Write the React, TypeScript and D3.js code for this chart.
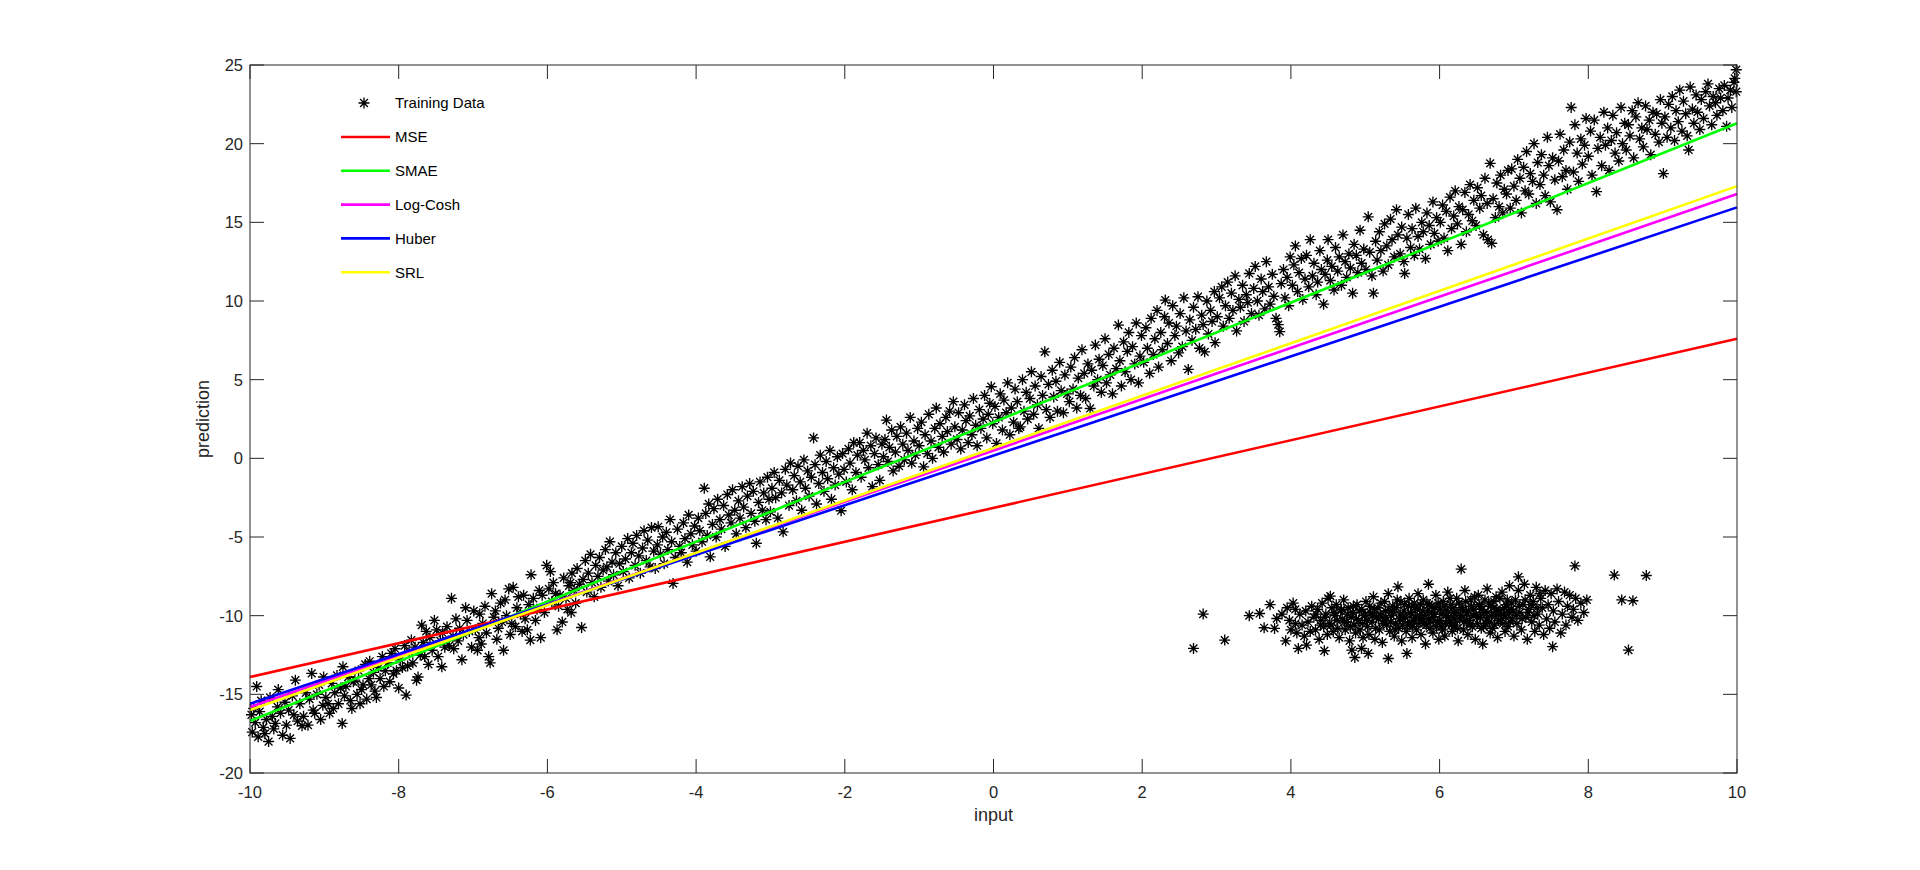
import React from 'react'
import * as d3 from 'd3'

// main band of the training data [input, target]
const bandPoints: [number, number][] = [
  [-9.98,-16.3],[-9.97,-17.4],[-9.95,-15.9],[-9.93,-16.8],[-9.91,-14.5],[-9.89,-17.7],[-9.87,-16.1],[-9.85,-15.4],[-9.82,-17.1],[-9.8,-17.5],[-9.78,-16.6],[-9.75,-18.0],[-9.73,-15.2],[-9.7,-16.4],[-9.68,-17.2],[-9.66,-16.85],[-9.63,-15.8],[-9.62,-14.7],[-9.59,-16.2],[-9.56,-17.6],[-9.53,-15.5],[-9.51,-16.96],[-9.48,-16.0],[-9.46,-17.8],[-9.43,-15.1],[-9.41,-16.3],[-9.39,-14.1],[-9.36,-16.7],[-9.33,-15.6],[-9.3,-17.0],[-9.28,-16.4],[-9.25,-14.9],[-9.22,-16.96],[-9.2,-15.3],[-9.17,-13.67],[-9.15,-16.0],[-9.13,-16.2],[-9.1,-15.0],[-9.07,-14.4],[-9.05,-16.6],[-9.02,-15.7],
  [-9.01,-13.9],[-8.98,-15.2],[-8.95,-15.6],[-8.93,-16.2],[-8.9,-14.3],[-8.88,-15.9],[-8.86,-14.9],[-8.83,-13.8],[-8.81,-15.6],[-8.78,-14.6],[-8.76,-16.85],[-8.75,-13.25],[-8.73,-15.1],[-8.71,-14.5],[-8.68,-13.9],[-8.65,-15.4],[-8.63,-15.9],[-8.61,-14.2],[-8.59,-14.1],[-8.56,-15.0],[-8.54,-13.5],[-8.52,-15.6],[-8.5,-14.7],[-8.48,-14.4],[-8.45,-13.1],[-8.43,-15.3],[-8.4,-14.0],[-8.39,-12.9],[-8.37,-14.4],[-8.34,-13.6],[-8.32,-14.8],[-8.3,-15.2],[-8.27,-13.3],[-8.25,-14.0],[-8.22,-12.6],[-8.2,-14.5],[-8.18,-13.5],[-8.15,-13.0],[-8.12,-14.2],[-8.1,-12.4],[-8.07,-13.7],[-8.05,-12.1],[-8.03,-13.5],
  [-8.0,-14.6],[-7.98,-12.8],[-7.95,-13.3],[-7.92,-11.9],[-7.9,-15.05],[-7.88,-13.2],[-7.86,-12.3],[-7.83,-11.55],[-7.81,-13.0],[-7.78,-12.0],[-7.76,-14.1],[-7.74,-13.9],[-7.71,-12.5],[-7.69,-10.6],[-7.67,-11.7],[-7.65,-12.6],[-7.63,-11.0],[-7.6,-13.1],[-7.58,-11.4],[-7.55,-12.2],[-7.52,-10.3],[-7.49,-10.9],[-7.47,-12.6],[-7.44,-11.6],[-7.42,-13.25],[-7.41,-11.1],[-7.38,-12.0],[-7.35,-10.7],[-7.32,-11.9],[-7.29,-8.9],[-7.27,-11.3],[-7.26,-12.1],[-7.23,-10.2],[-7.2,-11.6],[-7.18,-10.8],[-7.15,-12.8],[-7.13,-11.2],[-7.1,-9.5],[-7.08,-10.3],[-7.05,-11.0],[-7.02,-12.0],
  [-6.99,-9.7],[-6.97,-10.9],[-6.94,-12.2],[-6.92,-11.4],[-6.91,-9.9],[-6.89,-11.8],[-6.87,-10.5],[-6.84,-9.4],[-6.82,-11.1],[-6.79,-12.6],[-6.77,-13.0],[-6.75,-8.6],[-6.72,-10.1],[-6.7,-9.7],[-6.68,-11.5],[-6.66,-10.8],[-6.63,-9.2],[-6.61,-10.4],[-6.59,-12.2],[-6.57,-9.0],[-6.55,-10.0],[-6.52,-8.3],[-6.5,-11.2],[-6.48,-10.5],[-6.46,-8.2],[-6.43,-10.7],[-6.41,-9.5],[-6.39,-8.8],[-6.36,-9.9],[-6.34,-11.0],[-6.32,-8.7],[-6.3,-10.2],[-6.27,-10.9],[-6.25,-9.3],[-6.23,-11.55],[-6.22,-7.4],[-6.19,-8.9],[-6.16,-10.3],[-6.14,-9.6],[-6.11,-8.4],[-6.09,-11.4],[-6.07,-8.7],[-6.04,-9.8],[-6.01,-6.8],
  [-5.98,-8.3],[-5.96,-7.2],[-5.94,-9.1],[-5.92,-7.9],[-5.89,-8.6],[-5.87,-10.9],[-5.85,-9.4],[-5.83,-8.7],[-5.8,-10.4],[-5.78,-7.6],[-5.75,-8.9],[-5.73,-9.6],[-5.71,-8.1],[-5.69,-7.9],[-5.68,-9.8],[-5.67,-7.3],[-5.64,-8.4],[-5.62,-9.2],[-5.6,-7.0],[-5.57,-8.0],[-5.54,-10.75],[-5.52,-7.7],[-5.49,-6.5],[-5.47,-8.5],[-5.45,-7.3],[-5.42,-6.1],[-5.4,-7.9],[-5.37,-8.8],[-5.35,-6.8],[-5.32,-7.5],[-5.3,-6.3],[-5.28,-8.2],[-5.25,-7.1],[-5.22,-5.8],[-5.2,-6.9],[-5.18,-7.8],[-5.16,-5.3],[-5.13,-6.6],[-5.11,-7.4],[-5.08,-6.0],[-5.05,-8.1],[-5.03,-6.7],
  [-5.0,-5.6],[-4.98,-7.2],[-4.95,-6.4],[-4.92,-5.1],[-4.9,-7.6],[-4.87,-6.0],[-4.85,-5.4],[-4.82,-6.8],[-4.8,-4.9],[-4.77,-6.2],[-4.75,-7.3],[-4.72,-5.7],[-4.7,-4.6],[-4.67,-6.5],[-4.65,-5.2],[-4.62,-6.9],[-4.6,-4.4],[-4.57,-5.9],[-4.55,-7.0],[-4.52,-5.5],[-4.51,-4.35],[-4.48,-6.1],[-4.45,-5.0],[-4.43,-6.7],[-4.4,-4.7],[-4.38,-5.8],[-4.35,-3.9],[-4.33,-5.3],[-4.31,-7.95],[-4.28,-6.3],[-4.25,-4.5],[-4.22,-5.6],[-4.2,-6.0],[-4.17,-4.1],[-4.15,-5.1],[-4.12,-6.6],[-4.1,-3.6],[-4.07,-4.8],[-4.05,-5.5],[-4.02,-4.3],
  [-4.0,-5.9],[-3.97,-3.8],[-3.95,-4.6],[-3.92,-5.3],[-3.89,-1.9],[-3.87,-3.5],[-3.85,-4.9],[-3.83,-2.9],[-3.81,-6.26],[-3.78,-4.2],[-3.76,-3.2],[-3.73,-5.0],[-3.71,-2.6],[-3.68,-3.9],[-3.66,-4.5],[-3.63,-3.0],[-3.61,-5.6],[-3.58,-2.3],[-3.56,-3.6],[-3.53,-4.1],[-3.51,-2.0],[-3.48,-3.3],[-3.46,-4.8],[-3.43,-2.7],[-3.41,-3.8],[-3.38,-1.8],[-3.36,-3.1],[-3.33,-4.4],[-3.31,-2.4],[-3.28,-1.6],[-3.26,-3.5],[-3.23,-2.1],[-3.21,-4.0],[-3.19,-5.4],[-3.16,-2.8],[-3.14,-1.5],[-3.11,-3.3],[-3.09,-2.2],[-3.06,-3.9],[-3.04,-1.2],[-3.02,-2.6],
  [-3.0,-3.4],[-2.98,-1.9],[-2.95,-0.9],[-2.93,-2.5],[-2.9,-3.8],[-2.88,-1.4],[-2.85,-2.2],[-2.83,-4.67],[-2.8,-0.7],[-2.78,-1.7],[-2.75,-3.0],[-2.73,-0.3],[-2.7,-2.0],[-2.68,-1.1],[-2.65,-2.7],[-2.63,-0.5],[-2.6,-1.5],[-2.58,-3.3],[-2.55,-0.1],[-2.53,-1.9],[-2.5,-0.8],[-2.48,-2.4],[-2.45,-1.2],[-2.42,1.3],[-2.4,-0.4],[-2.38,-2.9],[-2.35,-1.6],[-2.33,0.2],[-2.3,-0.9],[-2.28,-2.1],[-2.25,-0.2],[-2.23,-1.3],[-2.2,0.5],[-2.18,-2.6],[-2.15,-0.6],[-2.13,-1.7],[-2.1,0.1],[-2.08,-1.0],[-2.05,-3.33],[-2.03,0.3],[-2.01,-0.7],
  [-1.98,-1.5],[-1.95,0.6],[-1.93,-0.3],[-1.9,-2.0],[-1.88,1.0],[-1.85,-0.9],[-1.83,0.2],[-1.8,1.0],[-1.78,-1.2],[-1.75,0.5],[-1.73,-0.1],[-1.7,1.6],[-1.68,-0.6],[-1.65,0.8],[-1.63,-1.8],[-1.6,0.3],[-1.58,1.3],[-1.55,-0.4],[-1.53,-1.4],[-1.5,0.9],[-1.48,0.1],[-1.46,1.2],[-1.44,2.43],[-1.42,-0.2],[-1.4,0.7],[-1.37,1.8],[-1.35,-0.8],[-1.32,0.4],[-1.3,1.4],[-1.27,-0.5],[-1.25,2.0],[-1.22,0.9],[-1.2,-0.1],[-1.17,1.6],[-1.15,0.5],[-1.12,2.6],[-1.1,-0.3],[-1.07,1.1],[-1.05,0.2],[-1.02,1.9],
  [-1.0,0.8],[-0.97,2.3],[-0.94,-0.54],[-0.92,1.5],[-0.89,0.3],[-0.87,2.8],[-0.84,1.1],[-0.82,0.0],[-0.79,1.9],[-0.77,3.2],[-0.74,0.7],[-0.72,2.2],[-0.69,1.4],[-0.67,0.4],[-0.64,2.6],[-0.62,1.7],[-0.59,3.0],[-0.57,0.9],[-0.54,3.6],[-0.52,2.0],[-0.49,1.2],[-0.47,2.9],[-0.44,0.6],[-0.42,1.8],[-0.39,3.4],[-0.37,2.4],[-0.34,1.0],[-0.32,2.7],[-0.29,1.5],[-0.27,3.8],[-0.24,2.1],[-0.22,0.8],[-0.19,3.1],[-0.17,1.9],[-0.14,2.5],[-0.12,4.0],[-0.09,1.3],[-0.07,2.8],[-0.05,3.5],[-0.03,4.55],[-0.01,2.2],
  [0.02,3.3],[0.04,0.95],[0.07,2.6],[0.09,4.1],[0.12,1.8],[0.14,3.7],[0.17,2.9],[0.19,4.8],[0.22,1.5],[0.24,3.2],[0.27,2.3],[0.29,4.4],[0.32,3.6],[0.34,1.9],[0.36,2.0],[0.39,5.0],[0.41,3.0],[0.44,4.2],[0.46,2.5],[0.49,3.8],[0.51,5.5],[0.54,2.8],[0.56,4.6],[0.59,3.4],[0.61,1.9],[0.64,5.2],[0.66,4.0],[0.69,6.77],[0.71,3.1],[0.74,4.7],[0.76,2.6],[0.79,5.6],[0.81,3.9],[0.84,4.9],[0.86,3.0],[0.89,6.1],[0.91,4.3],[0.94,2.9],[0.96,5.3],[0.99,4.1],
  [1.02,3.6],[1.04,5.8],[1.07,4.4],[1.09,6.4],[1.12,3.2],[1.14,5.1],[1.17,4.0],[1.19,6.9],[1.22,5.4],[1.24,3.8],[1.27,6.0],[1.3,3.17],[1.32,5.6],[1.35,4.6],[1.37,7.2],[1.4,5.0],[1.42,6.3],[1.45,4.2],[1.47,5.9],[1.5,7.6],[1.52,4.8],[1.55,6.6],[1.57,5.3],[1.6,4.1],[1.62,7.0],[1.65,5.7],[1.68,8.47],[1.7,6.2],[1.72,4.6],[1.75,7.4],[1.77,5.5],[1.8,6.8],[1.82,8.0],[1.85,5.0],[1.87,7.1],[1.9,6.0],[1.92,8.6],[1.95,4.8],[1.97,6.5],[1.99,7.8],
  [2.02,6.1],[2.05,8.3],[2.07,7.0],[2.1,5.4],[2.12,8.9],[2.15,6.6],[2.17,7.6],[2.2,9.4],[2.22,5.8],[2.25,8.0],[2.27,6.9],[2.3,9.0],[2.31,10.06],[2.34,7.3],[2.36,8.6],[2.39,6.2],[2.41,9.7],[2.44,7.8],[2.46,8.4],[2.49,6.7],[2.51,9.2],[2.54,7.1],[2.56,10.2],[2.59,8.1],[2.62,5.65],[2.64,8.8],[2.67,7.5],[2.69,9.6],[2.72,8.2],[2.75,10.27],[2.77,7.0],[2.8,9.1],[2.82,8.5],[2.84,6.77],[2.87,10.0],[2.89,7.9],[2.92,9.4],[2.94,8.7],[2.97,10.6],[2.98,7.35],
  [3.01,9.0],[3.04,10.2],[3.07,10.9],[3.09,8.4],[3.12,9.7],[3.15,11.2],[3.17,8.9],[3.2,10.5],[3.22,9.4],[3.25,11.6],[3.27,8.1],[3.3,10.1],[3.32,9.6],[3.35,11.0],[3.37,8.7],[3.4,10.4],[3.42,9.9],[3.44,11.75],[3.47,9.2],[3.5,10.8],[3.52,12.2],[3.55,10.0],[3.57,9.1],[3.6,11.4],[3.62,10.6],[3.65,9.5],[3.67,12.5],[3.7,10.9],[3.72,9.8],[3.75,11.7],[3.77,10.3],[3.8,8.9],[3.83,8.5],[3.85,8.05],[3.87,11.1],[3.9,12.0],[3.92,10.2],[3.95,11.5],[3.97,9.7],[3.99,12.8],
  [4.02,11.0],[4.04,12.3],[4.06,13.5],[4.09,10.6],[4.11,11.8],[4.14,12.7],[4.16,10.1],[4.19,11.4],[4.21,12.9],[4.24,10.9],[4.26,13.9],[4.29,11.6],[4.31,12.4],[4.34,10.4],[4.36,11.2],[4.39,13.2],[4.41,12.0],[4.44,9.8],[4.46,11.7],[4.49,12.6],[4.5,13.9],[4.53,11.3],[4.55,12.2],[4.58,10.7],[4.6,13.4],[4.63,11.9],[4.65,12.8],[4.68,11.0],[4.7,14.2],[4.73,12.5],[4.75,11.5],[4.78,13.0],[4.8,12.1],[4.83,10.5],[4.85,13.6],[4.88,12.9],[4.9,11.8],[4.93,14.5],[4.95,12.4],[4.98,13.3],
  [5.01,12.0],[5.04,15.35],[5.06,13.1],[5.09,11.6],[5.11,10.5],[5.14,13.8],[5.16,12.6],[5.19,14.4],[5.21,13.2],[5.24,11.9],[5.26,14.9],[5.29,13.5],[5.31,12.3],[5.34,15.2],[5.36,13.9],[5.39,12.8],[5.42,15.8],[5.44,14.2],[5.47,13.0],[5.49,14.7],[5.52,12.5],[5.53,11.75],[5.56,14.0],[5.58,15.5],[5.61,13.4],[5.63,14.6],[5.66,12.9],[5.68,15.9],[5.71,14.1],[5.73,13.3],[5.76,15.0],[5.78,14.4],[5.81,12.7],[5.83,15.6],[5.86,14.8],[5.88,13.6],[5.91,16.3],[5.93,14.3],[5.96,15.3],[5.98,13.8],
  [6.01,15.0],[6.04,16.1],[6.06,14.0],[6.09,15.7],[6.11,13.2],[6.14,16.6],[6.16,14.6],[6.19,15.4],[6.21,17.0],[6.24,14.9],[6.26,16.0],[6.29,13.6],[6.31,15.8],[6.34,16.9],[6.36,14.4],[6.39,15.5],[6.41,17.4],[6.44,15.1],[6.46,16.4],[6.49,14.8],[6.51,17.2],[6.54,15.9],[6.56,16.7],[6.59,14.2],[6.61,17.8],[6.64,16.2],[6.65,13.9],[6.68,18.75],[6.7,13.67],[6.72,16.5],[6.75,15.3],[6.77,17.5],[6.8,16.0],[6.82,18.0],[6.85,15.6],[6.87,17.1],[6.9,16.8],[6.92,18.3],[6.95,15.9],[6.97,18.4],
  [7.0,17.3],[7.03,16.4],[7.05,19.0],[7.08,17.8],[7.1,15.6],[7.13,18.5],[7.15,17.0],[7.17,19.5],[7.2,16.8],[7.22,18.1],[7.25,17.6],[7.27,20.0],[7.3,16.2],[7.32,18.8],[7.35,17.4],[7.37,19.3],[7.4,18.0],[7.42,16.7],[7.45,20.4],[7.47,18.6],[7.49,16.3],[7.52,19.1],[7.55,17.7],[7.58,15.8],[7.6,18.9],[7.62,20.6],[7.65,17.9],[7.67,19.6],[7.7,18.3],[7.72,17.1],[7.75,20.1],[7.77,22.3],[7.8,18.2],[7.82,21.2],[7.85,19.4],[7.87,17.6],[7.9,20.3],[7.92,18.7],[7.95,19.9],[7.97,21.6],
  [8.0,19.2],[8.03,20.8],[8.05,18.0],[8.08,21.5],[8.11,16.95],[8.13,19.7],[8.16,20.4],[8.18,18.6],[8.21,22.0],[8.23,19.9],[8.26,21.0],[8.28,18.3],[8.31,20.2],[8.33,21.8],[8.36,19.4],[8.38,20.7],[8.41,18.9],[8.44,22.3],[8.46,20.0],[8.49,21.3],[8.51,19.6],[8.54,21.2],[8.56,20.5],[8.59,22.1],[8.61,19.1],[8.64,21.7],[8.67,22.6],[8.69,20.3],[8.72,21.0],[8.74,19.8],[8.77,22.4],[8.79,20.9],[8.82,21.5],[8.84,19.3],[8.87,22.0],[8.9,20.6],[8.92,21.9],[8.95,20.1],[8.97,22.8],[8.99,21.3],
  [9.01,18.1],[9.03,21.7],[9.06,20.4],[9.08,22.5],[9.11,21.0],[9.13,23.0],[9.16,20.2],[9.18,22.1],[9.21,21.4],[9.23,23.4],[9.26,20.8],[9.28,22.7],[9.31,21.9],[9.33,20.5],[9.35,19.6],[9.37,23.6],[9.4,22.2],[9.42,21.3],[9.45,23.1],[9.47,22.0],[9.5,20.9],[9.52,22.8],[9.55,21.6],[9.58,23.3],[9.61,23.8],[9.63,22.4],[9.66,21.2],[9.68,23.0],[9.71,22.6],[9.73,21.8],[9.76,23.5],[9.78,22.9],[9.81,22.1],[9.83,23.7],[9.86,21.1],[9.88,22.9],[9.91,23.4],[9.93,22.3],[9.96,23.9],[9.97,24.15],[9.99,24.7],[9.99,23.3],
]

// outlier cluster of the training data
const clusterPoints: [number, number][] = [
  [2.69,-12.08],[2.82,-9.9],[3.11,-11.55],[3.44,-10.0],[3.58,-9.86],[3.64,-10.77],[3.78,-10.81],[3.81,-10.18],[3.93,-11.6],[4.06,-9.6],[4.1,-12.08],[4.21,-11.87],[4.45,-12.23],[4.53,-8.76],[4.82,-12.19],[4.86,-12.66],[4.95,-12.08],[5.04,-12.4],[5.31,-12.72],[5.56,-12.4],[5.44,-8.17],[5.85,-8.0],[6.29,-7.04],[7.06,-7.53],[7.52,-11.97],[7.82,-6.84],[8.35,-7.42],[8.45,-9.0],[8.54,-12.19],[8.78,-7.45],[8.6,-9.05],
  [3.72,-9.3],[3.88,-9.9],[3.95,-9.5],[3.98,-10.3],[4.0,-10.9],[4.03,-9.2],[4.06,-10.5],[4.08,-11.1],
  [4.12,-9.9],[4.15,-10.6],[4.18,-11.3],[4.2,-9.7],[4.23,-10.4],[4.26,-11.0],[4.28,-9.4],[4.31,-10.1],[4.33,-10.9],[4.36,-9.6],[4.38,-11.5],[4.4,-10.3],[4.42,-9.2],[4.44,-10.7],[4.47,-9.9],[4.49,-11.2],[4.5,-8.9],[4.52,-10.5],[4.55,-9.5],[4.57,-11.0],[4.59,-10.0],[4.61,-9.3],[4.63,-10.8],[4.65,-11.4],[4.67,-9.7],[4.69,-10.2],[4.71,-9.0],[4.73,-10.9],[4.75,-10.4],[4.77,-9.5],[4.79,-11.6],[4.81,-10.1],[4.83,-9.8],[4.85,-10.6],[4.87,-11.1],[4.89,-9.3],[4.91,-10.3],[4.93,-10.9],[4.95,-9.6],[4.97,-11.4],[4.99,-10.0],
  [5.01,-9.1],[5.03,-10.7],[5.05,-11.2],[5.07,-9.8],[5.09,-10.4],[5.11,-8.8],[5.13,-11.5],[5.15,-10.1],[5.17,-9.5],[5.19,-10.9],[5.21,-9.2],[5.23,-11.7],[5.25,-10.3],[5.27,-9.7],[5.29,-10.6],[5.31,-8.6],[5.33,-11.0],[5.35,-10.0],[5.37,-9.4],[5.39,-11.3],[5.41,-10.5],[5.43,-9.0],[5.45,-10.8],[5.47,-9.9],[5.49,-11.6],[5.51,-10.2],[5.53,-9.3],[5.55,-11.0],[5.57,-10.6],[5.59,-8.9],[5.61,-9.8],[5.63,-11.4],[5.65,-10.3],[5.67,-9.5],[5.69,-10.9],[5.71,-8.6],[5.73,-10.0],[5.75,-11.2],[5.77,-9.7],[5.79,-10.5],[5.81,-11.8],[5.83,-9.2],[5.85,-10.2],[5.87,-10.8],[5.89,-9.4],[5.91,-11.1],[5.93,-9.9],[5.95,-8.7],[5.97,-10.4],[5.99,-11.5],
  [6.01,-9.6],[6.03,-10.7],[6.05,-9.1],[6.07,-11.3],[6.09,-10.0],[6.11,-8.5],[6.13,-10.4],[6.15,-9.3],[6.17,-11.0],[6.19,-9.8],[6.21,-10.6],[6.23,-8.9],[6.25,-11.6],[6.27,-10.2],[6.3,-9.5],[6.32,-10.9],[6.34,-8.4],[6.36,-9.9],[6.38,-11.2],[6.4,-10.3],[6.42,-9.0],[6.44,-10.7],[6.46,-9.6],[6.48,-11.5],[6.5,-10.1],[6.52,-8.7],[6.54,-9.4],[6.56,-10.8],[6.58,-11.8],[6.6,-9.8],[6.62,-10.5],[6.64,-8.3],[6.66,-9.2],[6.68,-11.1],[6.7,-10.0],[6.72,-9.5],[6.74,-10.6],[6.76,-8.8],[6.78,-11.4],[6.8,-9.7],[6.82,-10.3],[6.84,-8.5],[6.86,-9.9],[6.88,-11.0],[6.9,-9.3],[6.92,-10.7],[6.94,-8.1],[6.96,-9.6],[6.98,-10.2],
  [7.0,-11.3],[7.02,-9.0],[7.04,-10.5],[7.06,-8.4],[7.08,-9.8],[7.1,-10.9],[7.12,-9.3],[7.14,-8.0],[7.16,-10.1],[7.18,-11.5],[7.2,-9.6],[7.22,-8.7],[7.24,-10.4],[7.26,-9.1],[7.28,-11.0],[7.3,-8.2],[7.32,-9.9],[7.34,-10.6],[7.36,-8.9],[7.38,-9.5],[7.4,-11.2],[7.42,-8.4],[7.44,-10.2],[7.46,-9.3],[7.48,-10.8],[7.5,-8.6],[7.53,-9.7],[7.55,-10.4],[7.58,-8.3],[7.6,-9.1],[7.63,-11.1],[7.65,-9.9],[7.68,-8.5],[7.7,-10.6],[7.72,-9.4],[7.75,-8.7],[7.78,-10.1],[7.8,-9.6],[7.83,-8.9],[7.86,-10.3],[7.9,-9.2],[7.94,-9.8],[7.98,-9.0],
  [4.84,-9.4],[4.88,-10.2],[4.92,-9.7],[4.96,-10.5],[5.0,-9.9],[5.02,-10.3],[5.06,-9.4],[5.1,-10.0],[5.12,-9.6],[5.14,-10.8],[5.18,-10.2],[5.2,-9.9],[5.24,-10.5],[5.26,-9.1],[5.28,-10.1],[5.32,-9.6],[5.34,-10.4],[5.38,-9.8],[5.4,-10.9],[5.42,-9.5],[5.46,-10.2],[5.48,-9.1],[5.5,-10.6],[5.52,-9.7],[5.54,-10.1],[5.58,-9.4],[5.6,-10.4],[5.62,-9.9],[5.64,-10.7],[5.66,-9.2],[5.68,-10.1],[5.7,-9.6],[5.72,-10.5],[5.74,-9.3],[5.76,-10.2],[5.78,-9.0],[5.8,-10.0],[5.82,-10.6],[5.84,-9.7],[5.86,-9.3],[5.88,-10.4],[5.9,-9.8],[5.92,-10.1],[5.94,-9.5],[5.96,-10.7],[5.98,-9.2],
  [6.0,-10.3],[6.02,-9.9],[6.04,-10.9],[6.06,-9.4],[6.08,-10.5],[6.1,-9.7],[6.12,-10.1],[6.14,-8.9],[6.16,-10.6],[6.18,-9.5],[6.2,-10.2],[6.22,-9.8],[6.24,-10.8],[6.26,-9.2],[6.28,-10.0],[6.31,-9.6],[6.33,-10.4],[6.35,-9.1],[6.37,-10.3],[6.39,-9.7],[6.41,-10.6],[6.43,-9.4],[6.45,-10.0],[6.47,-8.8],[6.49,-9.9],[6.51,-10.5],[6.53,-9.3],[6.55,-10.1],[6.57,-9.6],[6.59,-10.7],[6.61,-9.0],[6.63,-10.2],[6.65,-9.8],[6.67,-10.4],[6.69,-9.4],[6.71,-10.8],[6.73,-9.1],[6.75,-10.0],[6.77,-9.6],[6.79,-10.3],[6.81,-8.9],[6.83,-9.9],[6.85,-10.5],[6.87,-9.5],[6.89,-10.1],[6.91,-9.0],[6.93,-9.8],[6.95,-10.4],[6.97,-9.2],[6.99,-9.7],
  [7.03,-10.0],[7.07,-9.4],[7.11,-10.2],[7.15,-9.0],[7.19,-9.8],[7.23,-9.3],[7.27,-10.0],[7.31,-9.5],[7.35,-8.6],[4.62,-10.3],[4.68,-9.6],[4.72,-10.4],[4.76,-9.9],[4.8,-10.7],[4.46,-10.1],[4.54,-10.6],[4.58,-9.8],[4.34,-9.9],[4.4,-10.6],
]

// fitted lines, value at input -10 and at input 10
const fitInputs = [-10, 10]
const mseFit = [-13.9, 7.6]
const smaeFit = [-16.7, 21.3]
const logCoshFit = [-15.8, 16.8]
const huberFit = [-15.6, 15.95]
const srlFit = [-16.0, 17.3]

const seriesNames = ['MSE', 'SMAE', 'Log-Cosh', 'Huber', 'SRL']
const seriesColors = ['#ff0000', '#00ff00', '#ff00ff', '#0000ff', '#ffff00']
const seriesValues = [mseFit, smaeFit, logCoshFit, huberFit, srlFit]

const xTicks = [-10, -8, -6, -4, -2, 0, 2, 4, 6, 8, 10]
const yTicks = [-20, -15, -10, -5, 0, 5, 10, 15, 20, 25]

const W = 1920
const H = 870
const left = 250
const right = 1737
const top = 65
const bottom = 773
const axisColor = '#262626'
const font = '"Liberation Sans", Arial, Helvetica, sans-serif'

// MATLAB '*' marker
const star = 'M-5.5,0H5.5M0,-5.5V5.5M-3.9,-3.9L3.9,3.9M-3.9,3.9L3.9,-3.9'

export default function App() {
  const x = d3.scaleLinear().domain([-10, 10]).range([left, right])
  const y = d3.scaleLinear().domain([-20, 25]).range([bottom, top])
  const line = d3.line<number>().x((_, i) => x(fitInputs[i])).y(d => y(d))
  const points = [...bandPoints, ...clusterPoints]
  const tick = 14

  return (
    <svg width={W} height={H} style={{ position: 'absolute', left: 0, top: 0, background: '#fff' }}
      fontFamily={font}>
      <rect width={W} height={H} fill="#fff" />

      {/* training data */}
      <g stroke="#000" strokeWidth={1.35} fill="none">
        {points.map((p, i) => (
          <path key={i} d={star} transform={`translate(${x(p[0])},${y(p[1])})`} />
        ))}
      </g>

      {/* fitted lines */}
      {seriesValues.map((vals, i) => (
        <path key={seriesNames[i]} d={line(vals) || ''} stroke={seriesColors[i]} strokeWidth={2.6} fill="none" />
      ))}

      {/* axes box and ticks */}
      <rect x={left} y={top} width={right - left} height={bottom - top} fill="none" stroke={axisColor} strokeWidth={1} />
      <g stroke={axisColor} strokeWidth={1}>
        {xTicks.map(t => (
          <g key={'x' + t}>
            <line x1={x(t)} x2={x(t)} y1={bottom} y2={bottom - tick} />
            <line x1={x(t)} x2={x(t)} y1={top} y2={top + tick} />
          </g>
        ))}
        {yTicks.map(t => (
          <g key={'y' + t}>
            <line x1={left} x2={left + tick} y1={y(t)} y2={y(t)} />
            <line x1={right} x2={right - tick} y1={y(t)} y2={y(t)} />
          </g>
        ))}
      </g>
      <g fill={axisColor} fontSize={16.5}>
        {xTicks.map(t => (
          <text key={'xl' + t} x={x(t)} y={bottom + 25} textAnchor="middle">{t}</text>
        ))}
        {yTicks.map(t => (
          <text key={'yl' + t} x={left - 7} y={y(t)} dy="0.36em" textAnchor="end">{t}</text>
        ))}
      </g>
      <text x={(left + right) / 2} y={821} textAnchor="middle" fontSize={18} fill={axisColor}>input</text>
      <text transform={`translate(209,${(top + bottom) / 2}) rotate(-90)`} textAnchor="middle" fontSize={18} fill={axisColor}>prediction</text>

      {/* legend */}
      <g fontSize={15} fill="#000">
        <path d={star} transform="translate(364,103)" stroke="#000" strokeWidth={1.35} fill="none" />
        <text x={395} y={103} dy="0.36em">Training Data</text>
        {seriesNames.map((name, i) => (
          <g key={name} transform={`translate(0,${137 + i * 33.8})`}>
            <line x1={341} x2={390} y1={0} y2={0} stroke={seriesColors[i]} strokeWidth={2.6} />
            <text x={395} y={0} dy="0.36em">{name}</text>
          </g>
        ))}
      </g>
    </svg>
  )
}
